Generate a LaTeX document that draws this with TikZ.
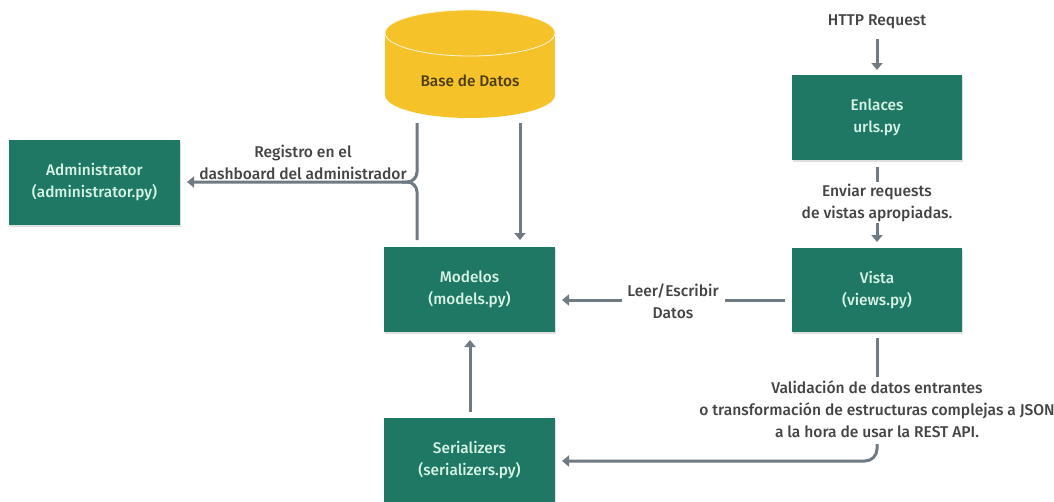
\documentclass[tikz,border=0pt]{standalone}
\usepackage{fontspec}
\setmainfont{Fira Sans}[UprightFont={* Medium}]
\usetikzlibrary{arrows.meta,shadows}
\definecolor{boxteal}{HTML}{1E7864}
\definecolor{boxtext}{HTML}{D6F3E6}
\definecolor{linegray}{HTML}{6F7A82}
\definecolor{labelgray}{HTML}{444444}
\definecolor{dbyellow}{HTML}{F6C22A}
\definecolor{dbtext}{HTML}{4D3D12}
\begin{document}
\begin{tikzpicture}[x=1pt,y=-1pt,
  box/.style={fill=boxteal, text=boxtext, minimum width=171pt, minimum height=85pt,
    align=center, inner sep=0pt, font=\fontsize{15.4}{22}\selectfont,
    drop shadow={opacity=0.25, shadow xshift=0.8pt, shadow yshift=-1.5pt}},
  lbl/.style={text=labelgray, align=center, inner sep=0pt, font=\fontsize{15.6}{22}\selectfont},
  conn/.style={draw=linegray, line width=3pt},
  arr/.style={conn, -{Triangle[width=11pt,length=7pt]}}]
\useasboundingbox (0,0) rectangle (1054,501);
\fill[white] (0,0) rectangle (1054,501);

% database cylinder
\fill[dbyellow] (470,95) ellipse [x radius=85, y radius=23];
\fill[dbyellow] (385,33) rectangle (555,95);
\fill[dbyellow] (470,33) ellipse [x radius=85, y radius=23];
\draw[white!85!dbyellow, line width=0.8pt] (470,33) ellipse [x radius=85, y radius=23];
\node[text=dbtext, font=\fontsize{15.4}{22}\selectfont, inner sep=0pt] (db) at (470,81) {Base de Datos};

% boxes
\node[box] (admin) at (94.5,182.5) {Administrator\\(administrator.py)};
\node[box] (modelos) at (469.5,289.5) {Modelos\\(models.py)};
\node[box, minimum width=170pt] (enlaces) at (877,117.5) {Enlaces\\urls.py};
\node[box, minimum width=170pt, minimum height=84pt] (vista) at (877,290) {Vista\\(views.py)};
\node[box, minimum height=84pt] (serial) at (469.5,460) {Serializers\\(serializers.py)};

% labels
\node[lbl] (http) at (877,22) {HTTP Request};
\node[lbl] (enviar) at (877,202.5) {Enviar requests\\de vistas apropiadas.};
\node[lbl] (leer) at (673,301.5) {Leer/Escribir\\Datos};
\node[lbl] (valid) at (877,409.5) {Validación de datos entrantes\\o transformación de estructuras complejas a JSON\\a la hora de usar la REST API.};
\node[lbl] (registro) at (303,162.5) {Registro en el\\dashboard del administrador};

% coordinates
\coordinate (httpB) at (877,39);
\coordinate (enlT) at (877,70);
\coordinate (enlB1) at (877,167);
\coordinate (enlB2) at (877,182);
\coordinate (envB) at (877,223);
\coordinate (visT) at (877,242);
\coordinate (dbL) at (417,123);
\coordinate (dbR) at (520,123);
\coordinate (junc) at (417,182);
\coordinate (admTip) at (187,182);
\coordinate (modTopL) at (417,240);
\coordinate (modTopR) at (520,240);
\coordinate (leerR) at (725,300);
\coordinate (leerL) at (622,300);
\coordinate (vistaL) at (785,300);
\coordinate (modR) at (562,300);
\coordinate (vBot) at (877,338);
\coordinate (vText) at (877,377);
\coordinate (tBot) at (877,444);
\coordinate (serR) at (562,461);
\coordinate (serTop) at (470,412);
\coordinate (modBot) at (470,340);

% connectors
\draw[arr] (httpB) -- (enlT);
\draw[conn] (enlB1) -- (enlB2);
\draw[arr] (envB) -- (visT);
\draw[conn] (vistaL) -- (leerR);
\draw[arr] (leerL) -- (modR);
\draw[conn] (vBot) -- (vText);
\draw[arr, rounded corners=12pt] (tBot) |- (serR);
\draw[arr] (serTop) -- (modBot);
\draw[arr] (dbR) -- (modTopR);
\draw[arr, rounded corners=10pt] (dbL) |- (admTip);
\draw[conn, rounded corners=10pt] (modTopL) |- ([xshift=-15pt]junc);
\end{tikzpicture}
\end{document}
